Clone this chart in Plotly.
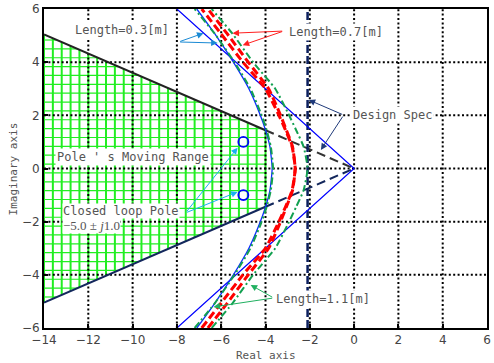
import numpy as np
import plotly.graph_objects as go

# ---------------- data ----------------
x_ticks = [-14, -12, -10, -8, -6, -4, -2, 0, 2, 4, 6]
y_ticks = [-6, -4, -2, 0, 2, 4, 6]

# design-spec damping line (upper half, lower half is the mirror image)
spec_line_x = [-14.0, -4.0, 0.0]
spec_line_y = [5.04, 1.44, 0.0]
spec_real_part = -2.1          # design-spec vertical line (real part)

# hatched "Pole's Moving Range" region
hatch_x_left = -14.0
hatch_x_right = -4.0
hatch_step_x = 0.4
hatch_step_y = 1.0 / 3.0

# root-locus branches, upper half (imaginary values), mirrored for lower half
locus_imag = [0.0, 0.82, 1.45, 2.08, 3.0, 4.0, 5.08, 6.0]
len03_a_real = [0.0, -8.0]                 # straight branch, Length = 0.3 m
len03_a_imag = [0.0, 6.0]
len03_b_real = [-3.70, -3.80, -4.00, -4.27, -4.75, -5.45, -6.30, -7.10]
len11_a_real = [-3.66, -3.76, -3.95, -4.21, -4.68, -5.40, -6.30, -7.20]
len07_a_real = [-2.66, -2.80, -3.10, -3.44, -4.00, -5.02, -6.02, -6.88]
len07_b_real = [-2.66, -2.78, -3.06, -3.36, -3.86, -4.78, -5.74, -6.60]
len11_b_real = [-2.10, -2.28, -2.62, -2.98, -3.56, -4.56, -5.50, -6.43]

# closed-loop poles
pole_real = [-5.0, -5.0]
pole_imag = [1.0, -1.0]


def mirror(xs, ys):
    xs = list(xs)
    ys = list(ys)
    return xs[::-1] + xs[1:], [-v for v in ys[::-1]] + ys[1:]


fig = go.Figure()

# ---- green hatch ----
vx, vy = [], []
n_v = int(round((hatch_x_right - hatch_x_left) / hatch_step_x))
for k in range(n_v + 1):
    xv = hatch_x_left + k * hatch_step_x
    top = float(np.interp(xv, spec_line_x, spec_line_y))
    vx += [xv, xv, None]
    vy += [-top, top, None]
hx, hy = [], []
k = 0
while (k + 0.5) * hatch_step_y <= spec_line_y[0]:
    yv = (k + 0.5) * hatch_step_y
    xr = min(hatch_x_right, float(np.interp(yv, spec_line_y[::-1], spec_line_x[::-1])))
    for s in (1, -1):
        hx += [hatch_x_left, xr, None]
        hy += [s * yv, s * yv, None]
    k += 1
fig.add_trace(go.Scatter(x=hx, y=hy, mode="lines", line=dict(color="#22ee22", width=1.2),
                         hoverinfo="skip", showlegend=False))
fig.add_trace(go.Scatter(x=vx, y=vy, mode="lines", line=dict(color="#22ee22", width=2),
                         hoverinfo="skip", showlegend=False))

# ---- dotted grid (drawn above the hatch) ----
gx, gy = [], []
for t in x_ticks[1:-1]:
    gx += [t, t, None]
    gy += [y_ticks[0], y_ticks[-1], None]
for t in y_ticks[1:-1]:
    gx += [x_ticks[0], x_ticks[-1], None]
    gy += [t, t, None]
fig.add_trace(go.Scatter(x=gx, y=gy, mode="lines",
                         line=dict(color="black", width=2, dash="2px,2.4px"),
                         hoverinfo="skip", showlegend=False))

# ---- design spec lines ----
fig.add_trace(go.Scatter(x=spec_line_x[:2], y=spec_line_y[:2], mode="lines",
                         line=dict(color="#222222", width=2), showlegend=False))
fig.add_trace(go.Scatter(x=spec_line_x[1:], y=spec_line_y[1:], mode="lines",
                         line=dict(color="#333333", width=2, dash="9px,5px"), showlegend=False))
fig.add_trace(go.Scatter(x=spec_line_x[:2], y=[-v for v in spec_line_y[:2]], mode="lines",
                         line=dict(color="#13275c", width=2), showlegend=False))
fig.add_trace(go.Scatter(x=spec_line_x[1:], y=[-v for v in spec_line_y[1:]], mode="lines",
                         line=dict(color="#13275c", width=2, dash="9px,5px"), showlegend=False))
fig.add_trace(go.Scatter(x=[spec_real_part, spec_real_part], y=[y_ticks[0], y_ticks[-1]],
                         mode="lines", line=dict(color="#0b1f5e", width=2.5, dash="8px,3px"),
                         showlegend=False))

# ---- root loci ----
bx, by = mirror(len03_a_real, len03_a_imag)
fig.add_trace(go.Scatter(x=bx, y=by, mode="lines", line=dict(color="#0000ff", width=1.2),
                         showlegend=False))
for xs, col, w, dash in [
    (len03_b_real, "#0a2cff", 1.3, "solid"),
    (len11_a_real, "#12a050", 2, "7px,3px,2px,3px"),
    (len07_a_real, "#ff0000", 3, "8px,4px"),
    (len07_b_real, "#ff0000", 3, "8px,4px"),
    (len11_b_real, "#12a050", 2, "7px,3px,2px,3px"),
]:
    cx, cy = mirror(xs, locus_imag)
    fig.add_trace(go.Scatter(x=cx, y=cy, mode="lines",
                             line=dict(color=col, width=w, dash=dash, shape="spline", smoothing=0.5),
                             showlegend=False))

fig.add_trace(go.Scatter(x=pole_real, y=pole_imag, mode="markers",
                         marker=dict(symbol="circle-open", size=10, color="#0000ff",
                                     line=dict(width=1.8, color="#0000ff")),
                         showlegend=False))

# ---- annotations ----
tfont = dict(family="DejaVu Sans Mono", size=12, color="#555555")
annos = []


def label(x, y, text, font=tfont, xanchor="center", pad=1):
    annos.append(dict(x=x, y=y, xref="x", yref="y", text=text, showarrow=False,
                      font=font, bgcolor="white", xanchor=xanchor, borderpad=pad))


def arrow(tail, head, color):
    annos.append(dict(x=head[0], y=head[1], ax=tail[0], ay=tail[1], xref="x", yref="y",
                      axref="x", ayref="y", text="", showarrow=True, arrowhead=2,
                      arrowsize=1.3, arrowwidth=1, arrowcolor=color, standoff=0, startstandoff=0))


label(-10.46, 5.21, "Length=0.3[m]")
label(-0.83, 5.13, "Length=0.7[m]")
label(1.72, 2.01, "Design Spec")
label(-1.40, -4.91, "Length=1.1[m]")
label(-10.0, 0.43, "Pole ' s Moving Range")
label(-13.2, -2.14, "\u22125.0 \u00b1 <i>j</i>1.0",
      font=dict(family="Liberation Serif", size=13, color="#555555"), xanchor="left", pad=0)
label(-13.2, -1.60, "Closed loop Pole", xanchor="left", pad=0)

arrow((-7.92, 4.76), (-6.80, 5.09), "#1a8ad4")
arrow((-7.92, 4.76), (-6.16, 4.72), "#1a8ad4")
arrow((-3.18, 5.17), (-5.49, 5.09), "#ff2020")
arrow((-3.18, 5.17), (-5.03, 4.64), "#ff2020")
arrow((-0.47, 2.01), (-2.05, 2.58), "#1f3a7a")
arrow((-0.47, 2.01), (-1.50, 0.70), "#1f3a7a")
arrow((-3.63, -4.87), (-4.67, -4.38), "#20b060")
arrow((-3.63, -4.87), (-6.35, -5.21), "#20b060")
arrow((-7.61, -1.67), (-5.26, 0.78), "#1ab0f0")
arrow((-7.61, -1.67), (-5.26, -0.88), "#1ab0f0")

# axis titles
tt = dict(family="DejaVu Sans Mono", size=11, color="#555555")
annos.append(dict(x=0.501, y=-0.085, xref="paper", yref="paper", text="Real axis",
                  showarrow=False, font=tt, xanchor="center", yanchor="middle"))
annos.append(dict(x=-0.068, y=0.5, xref="paper", yref="paper", text="Imaginary axis",
                  showarrow=False, font=tt, textangle=-90, xanchor="center", yanchor="middle"))

axis_common = dict(showgrid=False, zeroline=False, showline=True, linecolor="black",
                   linewidth=2, mirror=True, ticks="inside", ticklen=4, tickcolor="black",
                   tickwidth=1.5, automargin=False, ticklabeloverflow="allow",
                   tickfont=dict(family="DejaVu Sans", size=12, color="#444444"))

fig.update_layout(
    width=494, height=363,
    margin=dict(l=44, r=7, t=9, b=35),
    paper_bgcolor="white", plot_bgcolor="white",
    xaxis=dict(range=[x_ticks[0], x_ticks[-1]], tickvals=x_ticks, **axis_common),
    yaxis=dict(range=[y_ticks[0], y_ticks[-1]], tickvals=y_ticks, **axis_common),
    annotations=annos,
    showlegend=False,
)

fig.write_html("out.html", config={"displayModeBar": False},
               post_script="document.body.style.margin='0px';document.body.style.overflow='hidden';")
